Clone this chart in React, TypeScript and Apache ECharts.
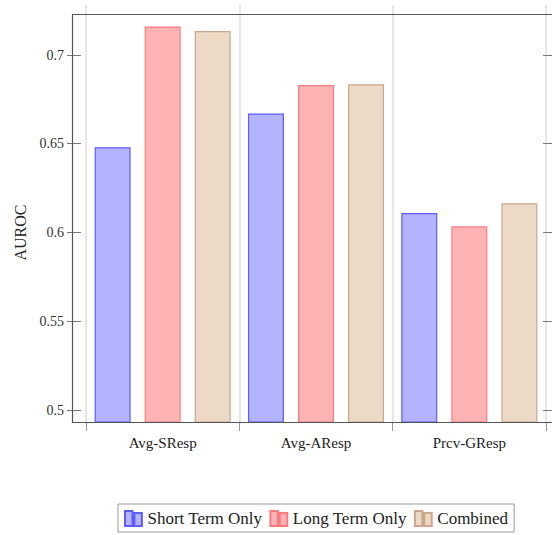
import React, { useEffect, useRef } from "react";
import * as echarts from "echarts";

const categories = ["Avg-SResp", "Avg-AResp", "Prcv-GResp"];
const seriesNames = ["Short Term Only", "Long Term Only", "Combined"];
const shortTerm = [0.648, 0.667, 0.611];
const longTerm = [0.716, 0.683, 0.6035];
const combined = [0.7135, 0.6835, 0.6165];
const yTickMin = 0.5;
const yTickMax = 0.7;
const yTickStep = 0.05;
// full axis extent of the plot (pgfplots enlarged limits)
const yExtentMin = 0.4933;
const yExtentMax = 0.7281;

const FONT = "Liberation Serif";
const fills = ["#b3b3ff", "#ffb3b5", "#ecd9c6"];
const strokes = ["#5c5cff", "#ff7a7f", "#c9a68c"];
const legendIcon = "path://M0,0h8v16h-8z M10,2h8v14h-8z";

export default function App() {
  const ref = useRef<HTMLDivElement>(null);
  useEffect(() => {
    if (!ref.current) return;
    const chart = echarts.init(ref.current, null, { renderer: "svg" });
    const data = [shortTerm, longTerm, combined];
    chart.setOption({
      animation: false,
      backgroundColor: "#fff",
      textStyle: { fontFamily: FONT },
      grid: [
        { left: 86, top: 5, width: 460, height: 417 },
        { left: 72, top: 55, width: 488, height: 355 },
      ],
      xAxis: [
        {
          type: "category",
          gridIndex: 0,
          data: categories,
          boundaryGap: true,
          axisLine: { show: false },
          axisTick: { show: true, length: 9, interval: 0, lineStyle: { color: "#999" } },
          splitLine: { show: true, interval: 0, lineStyle: { color: "#dedede", width: 1.5 } },
          axisLabel: { fontFamily: FONT, fontSize: 15, color: "#222", margin: 13 },
        },
        { type: "value", gridIndex: 1, show: false },
      ],
      yAxis: [
        { type: "value", gridIndex: 0, min: yExtentMin, max: yExtentMax, show: false },
        {
          type: "value",
          gridIndex: 1,
          min: yTickMin,
          max: yTickMax,
          interval: yTickStep,
          position: "left",
          axisLine: { show: false },
          axisTick: { show: true, length: 5, lineStyle: { color: "#777" } },
          splitLine: { show: false },
          axisLabel: { fontFamily: FONT, fontSize: 14, color: "#333", margin: 8 },
          name: "AUROC",
          nameLocation: "middle",
          nameGap: 36,
          nameTextStyle: { fontFamily: FONT, fontSize: 16, color: "#222" },
        },
        {
          type: "value",
          gridIndex: 1,
          min: yTickMin,
          max: yTickMax,
          interval: yTickStep,
          position: "left",
          axisLine: { show: false },
          axisTick: { show: true, inside: true, length: 9, lineStyle: { color: "#777" } },
          axisLabel: { show: false },
          splitLine: { show: false },
        },
        {
          type: "value",
          gridIndex: 1,
          min: yTickMin,
          max: yTickMax,
          interval: yTickStep,
          position: "right",
          axisLine: { show: false },
          axisTick: { show: true, inside: true, length: 9, lineStyle: { color: "#777" } },
          axisLabel: { show: false },
          splitLine: { show: false },
        },
      ],
      legend: {
        left: 118,
        top: 504,
        orient: "horizontal",
        itemWidth: 18,
        itemHeight: 15,
        itemGap: 7,
        padding: [6, 6, 5, 6],
        borderColor: "#999",
        borderWidth: 1,
        borderRadius: 0,
        textStyle: { fontFamily: FONT, fontSize: 17, color: "#222" },
        data: seriesNames.map((n) => ({ name: n, icon: legendIcon })),
      },
      graphic: [
        {
          type: "rect",
          silent: true,
          z: 100,
          shape: { x: 72.5, y: 14.5, width: 488, height: 408 },
          style: { fill: "none", stroke: "#555", lineWidth: 1.2 },
        },
      ],
      series: seriesNames.map((name, i) => ({
        name,
        type: "bar",
        xAxisIndex: 0,
        yAxisIndex: 0,
        data: data[i],
        barWidth: 36,
        barGap: "39%",
        itemStyle: { color: fills[i], borderColor: strokes[i], borderWidth: 1.2 },
      })),
    });
    return () => chart.dispose();
  }, []);
  return (
    <div
      ref={ref}
      style={{ position: "absolute", left: 0, top: 0, width: 552, height: 535 }}
    />
  );
}
